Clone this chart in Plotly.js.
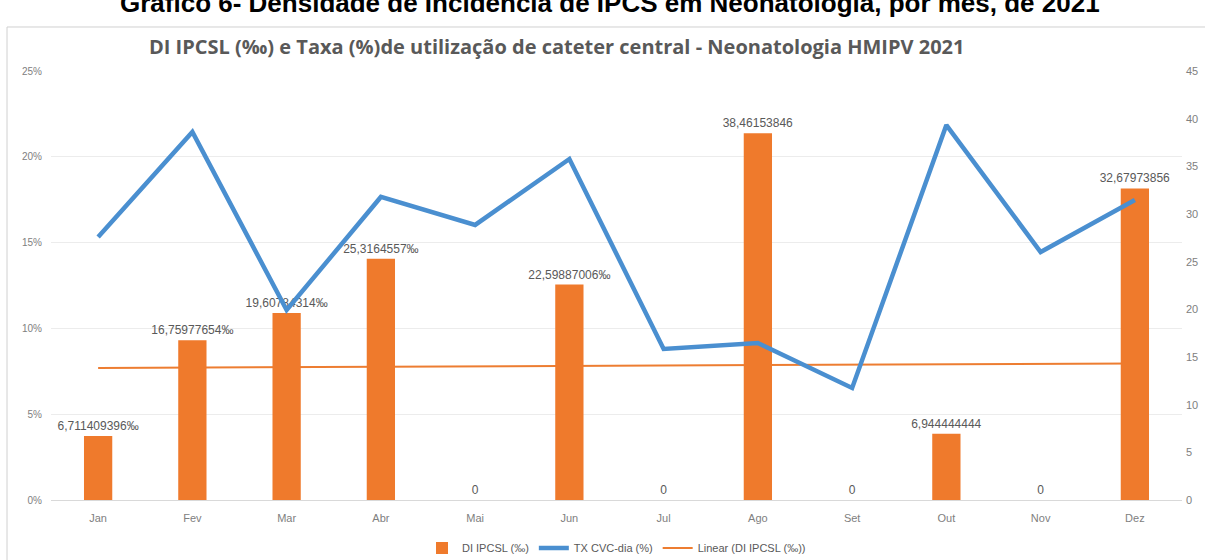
<!DOCTYPE html>
<html>
<head>
<meta charset="utf-8">
<script src="https://cdn.plot.ly/plotly-3.0.1.min.js"></script>
<style>
  html, body { margin: 0; padding: 0; background: #ffffff; }
  #chart { width: 1205px; height: 560px; }
</style>
</head>
<body>
<div id="chart"></div>
<script>
// ---- Data ----
const months = ["Jan", "Fev", "Mar", "Abr", "Mai", "Jun", "Jul", "Ago", "Set", "Out", "Nov", "Dez"];
const diIpcsl = [6.711409396, 16.75977654, 19.60784314, 25.3164557, 0, 22.59887006, 0, 38.46153846, 0, 6.944444444, 0, 32.67973856];
const diLabels = ["6,711409396‰", "16,75977654‰", "19,60784314‰", "25,3164557‰", "0", "22,59887006‰", "0", "38,46153846", "0", "6,944444444", "0", "32,67973856"];
const txCvc = [15.33, 21.45, 11.07, 17.66, 16.03, 19.87, 8.80, 9.15, 6.53, 21.85, 14.45, 17.48];
const leftTicks = [0, 5, 10, 15, 20, 25];
const leftTickText = ["0%", "5%", "10%", "15%", "20%", "25%"];
const rightTicks = [0, 5, 10, 15, 20, 25, 30, 35, 40, 45];

// Linear trendline (least squares) of DI IPCSL, as in the spreadsheet chart
function linearTrend(vals) {
  const n = vals.length;
  let sx = 0, sy = 0, sxy = 0, sxx = 0;
  vals.forEach((v, i) => { const x = i + 1; sx += x; sy += v; sxy += x * v; sxx += x * x; });
  const b = (n * sxy - sx * sy) / (n * sxx - sx * sx);
  const a = (sy - b * sx) / n;
  return vals.map((v, i) => a + b * (i + 1));
}
const trend = linearTrend(diIpcsl);

const FONT = "Liberation Sans, Arial, sans-serif";
const GRAY = "#595959";
const TICKGRAY = "#808080";

const traces = [
  {
    type: "scatter", mode: "lines", name: "Linear (DI IPCSL (‰))",
    x: months, y: trend, xaxis: "x", yaxis: "y",
    line: { color: "#ED7D31", width: 2 },
    legendrank: 3, hoverinfo: "skip"
  },
  {
    type: "bar", name: "DI IPCSL (‰)",
    x: months, y: diIpcsl, xaxis: "x", yaxis: "y2",
    marker: { color: "#EF7A2C" },
    text: diLabels, textposition: "outside", constraintext: "none", cliponaxis: false,
    textfont: { family: FONT, size: 12, color: GRAY },
    legendrank: 1, hoverinfo: "skip"
  },
  {
    type: "scatter", mode: "lines", name: "TX CVC-dia (%)",
    x: months, y: txCvc, xaxis: "x", yaxis: "y3",
    line: { color: "#4A8FD0", width: 4.5 },
    legendrank: 2, hoverinfo: "skip"
  }
];

const layout = {
  width: 1205, height: 560,
  margin: { l: 51, r: 23, t: 71, b: 60, autoexpand: false },
  paper_bgcolor: "#ffffff", plot_bgcolor: "#ffffff",
  font: { family: FONT, color: GRAY },
  bargap: 0.7,
  showlegend: true,
  legend: {
    orientation: "h", x: 0.5, xanchor: "center",
    yref: "container", y: 0.0214, yanchor: "middle",
    font: { family: FONT, size: 11, color: GRAY },
    traceorder: "normal", itemwidth: 30
  },
  xaxis: {
    type: "category", showgrid: false, zeroline: false, showline: false,
    ticks: "", ticklabelstandoff: 10,
    tickfont: { family: FONT, size: 11, color: TICKGRAY }
  },
  yaxis: {
    range: [0, 45], tickvals: [0, 9, 18, 27, 36, 45], showticklabels: false,
    showgrid: true, gridcolor: "#ececec", gridwidth: 1,
    zeroline: true, zerolinecolor: "#d9d9d9", zerolinewidth: 1, showline: false, ticks: ""
  },
  yaxis2: {
    overlaying: "y", side: "right", range: [0, 45], tickmode: "array", tickvals: rightTicks,
    showgrid: false, zeroline: false, showline: false, ticks: "", ticklabelstandoff: 3,
    tickfont: { family: FONT, size: 11, color: TICKGRAY }
  },
  yaxis3: {
    overlaying: "y", side: "left", range: [0, 25], tickmode: "array",
    tickvals: leftTicks, ticktext: leftTickText,
    showgrid: false, zeroline: false, showline: false, ticks: "", ticklabelstandoff: 8,
    tickfont: { family: FONT, size: 10, color: TICKGRAY }
  },
  title: {
    text: "<b>DI IPCSL (‰) e Taxa (%)de utilização de cateter central - Neonatologia HMIPV 2021</b>",
    font: { family: "Open Sans, Liberation Sans, sans-serif", size: 20, color: GRAY },
    xref: "container", x: 0.462, xanchor: "center", y: 0.916, yanchor: "middle"
  },
  annotations: [
    {
      text: "<b>Gráfico 6- Densidade de Incidência de IPCS em Neonatologia, por mês, de 2021</b>",
      xref: "paper", yref: "paper", x: 0.494, xanchor: "center",
      y: 1.158, yanchor: "middle", showarrow: false,
      font: { family: FONT, size: 26, color: "#000000" }
    }
  ],
  shapes: [
    {
      type: "rect", xref: "paper", yref: "paper",
      x0: -0.0389, x1: 1.03, y0: -0.16, y1: 1.1026,
      line: { color: "#d0d0d0", width: 1 }, fillcolor: "rgba(0,0,0,0)", layer: "below"
    }
  ]
};

Plotly.newPlot("chart", traces, layout, { staticPlot: true, displayModeBar: false });
</script>
</body>
</html>
